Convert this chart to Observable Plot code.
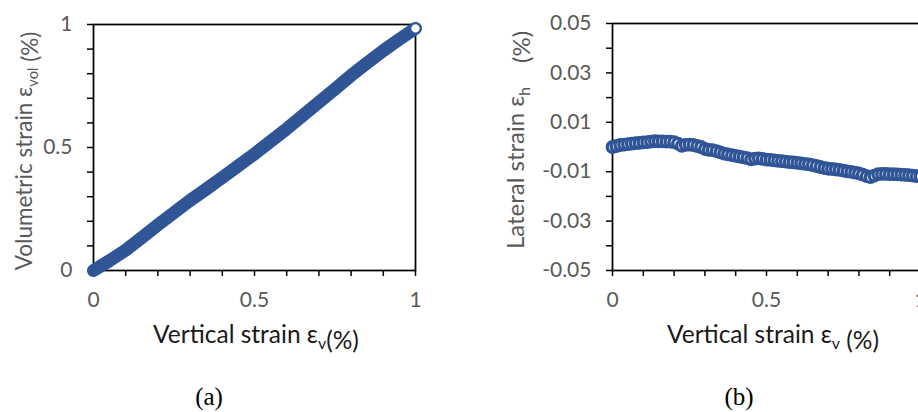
<!DOCTYPE html>
<html>
<head>
<meta charset="utf-8">
<script src="https://cdn.jsdelivr.net/npm/d3@7"></script>
<script src="https://cdn.jsdelivr.net/npm/@observablehq/plot@0.6"></script>
<style>
  html, body { margin: 0; padding: 0; background: #fff; overflow: hidden; }
  #fig { position: relative; width: 918px; height: 412px; overflow: hidden; }
  #fig > svg { position: absolute; top: 0; }
</style>
</head>
<body>
<div id="fig"></div>
<script>
// Panel (a): volumetric strain vs vertical strain (%)
const volX = [0, 0.05, 0.1, 0.15, 0.2, 0.25, 0.3, 0.35, 0.4, 0.45, 0.5,
              0.55, 0.6, 0.65, 0.7, 0.75, 0.8, 0.85, 0.9, 0.95, 1.0];
const volY = [0, 0.040, 0.083, 0.134, 0.185, 0.235, 0.285, 0.331, 0.378, 0.426, 0.474,
              0.525, 0.576, 0.630, 0.684, 0.738, 0.793, 0.844, 0.894, 0.940, 0.984];

// Panel (b): lateral strain vs vertical strain (%)
const latX = [0, 0.0125, 0.025, 0.0375, 0.05, 0.0625, 0.075, 0.0875, 0.1, 0.1125,
              0.125, 0.1375, 0.15, 0.1625, 0.175, 0.1875, 0.2, 0.2125, 0.225, 0.2375,
              0.25, 0.2625, 0.275, 0.2875, 0.3, 0.3125, 0.325, 0.3375, 0.35, 0.3625,
              0.375, 0.3875, 0.4, 0.4125, 0.425, 0.4375, 0.45, 0.4625, 0.475, 0.4875,
              0.5, 0.5125, 0.525, 0.5375, 0.55, 0.5625, 0.575, 0.5875, 0.6, 0.6125,
              0.625, 0.6375, 0.65, 0.6625, 0.675, 0.6875, 0.7, 0.7125, 0.725, 0.7375,
              0.75, 0.7625, 0.775, 0.7875, 0.8, 0.8125, 0.825, 0.8375, 0.85, 0.8625,
              0.875, 0.8875, 0.9, 0.9125, 0.925, 0.9375, 0.95, 0.9625, 0.975, 0.9875, 1.0];
const latY = [0.0000, 0.0004, 0.0008, 0.0010, 0.0012, 0.0014, 0.0016, 0.0017, 0.0019, 0.0020,
              0.0022, 0.0024, 0.0023, 0.0023, 0.0022, 0.0022, 0.0020, 0.0014, 0.0005, 0.0009,
              0.0010, 0.0008, 0.0004, 0.0000, -0.0008, -0.0012, -0.0013, -0.0017, -0.0022, -0.0027,
              -0.0030, -0.0033, -0.0036, -0.0039, -0.0042, -0.0045, -0.0050, -0.0047, -0.0046, -0.0048,
              -0.0051, -0.0052, -0.0054, -0.0056, -0.0057, -0.0059, -0.0061, -0.0062, -0.0064, -0.0066,
              -0.0068, -0.0070, -0.0073, -0.0077, -0.0081, -0.0085, -0.0088, -0.0089, -0.0091, -0.0093,
              -0.0096, -0.0099, -0.0101, -0.0104, -0.0107, -0.0112, -0.0118, -0.0122, -0.0116, -0.0110,
              -0.0109, -0.0109, -0.0110, -0.0110, -0.0111, -0.0112, -0.0113, -0.0114, -0.0116, -0.0118, -0.0119];

// Axis ticks and labels
const xMinorTicks = [0, 0.1, 0.2, 0.3, 0.4, 0.5, 0.6, 0.7, 0.8, 0.9, 1];
const xTickLabels = [0, 0.5, 1];
const volYMinorTicks = [0, 0.1, 0.2, 0.3, 0.4, 0.5, 0.6, 0.7, 0.8, 0.9, 1];
const volYTickLabels = [0, 0.5, 1];
const latYMinorTicks = [-0.05, -0.04, -0.03, -0.02, -0.01, 0, 0.01, 0.02, 0.03, 0.04, 0.05];
const latYTickLabels = ["0.05", "0.03", "0.01", "-0.01", "-0.03", "-0.05"];

const BLUE = "#2F5597";
const GREY = "#595959";
const FONT = "Lato, 'Open Sans', sans-serif";
const TICK_FS = 21;

const volData = volX.map((x, i) => ({x, y: volY[i]}));
const latData = latX.map((x, i) => ({x, y: latY[i]}));

function axes(xTicks, yTicks, xLabels, yLabels, yFmt) {
  return [
    Plot.axisX(xTicks, {tickSize: 6, stroke: "black", strokeWidth: 1.5, tickFormat: () => "", label: null}),
    Plot.axisY(yTicks, {tickSize: 6, stroke: "black", strokeWidth: 1.5, tickFormat: () => "", label: null}),
    Plot.text(xLabels, {x: d => d, frameAnchor: "bottom", dy: 30, text: d => String(d),
      fill: GREY, fontSize: TICK_FS, fontFamily: FONT, textAnchor: "middle", lineAnchor: "middle"}),
    Plot.text(yLabels, {y: d => +d, frameAnchor: "left", dx: -21, text: yFmt,
      fill: GREY, fontSize: TICK_FS, fontFamily: FONT, textAnchor: "end", lineAnchor: "middle"}),
    Plot.frame({stroke: "black", strokeWidth: 1.75})
  ];
}

// Panel (a)
const plotA = Plot.plot({
  width: 460, height: 412,
  marginLeft: 93, marginRight: 45, marginTop: 24, marginBottom: 142,
  x: {domain: [0, 1], axis: null},
  y: {domain: [0, 1], axis: null},
  style: {overflow: "visible", background: "transparent"},
  marks: [
    ...axes(xMinorTicks, volYMinorTicks, xTickLabels, volYTickLabels, d => String(d)),
    Plot.line(volData, {x: "x", y: "y", stroke: BLUE, strokeWidth: 13, strokeLinecap: "round", strokeLinejoin: "round"}),
    Plot.dot(volData.slice(-1), {x: "x", y: "y", r: 5, fill: "white", stroke: BLUE, strokeWidth: 1.75})
  ]
});
plotA.style.left = "0px";

// Panel (b)
const plotB = Plot.plot({
  width: 470, height: 412,
  marginLeft: 152, marginRight: 10, marginTop: 23, marginBottom: 142,
  x: {domain: [0, 1], axis: null},
  y: {domain: [-0.05, 0.05], axis: null},
  style: {overflow: "visible", background: "transparent"},
  marks: [
    ...axes(xMinorTicks, latYMinorTicks, xTickLabels, latYTickLabels, d => d),
    Plot.dot(latData, {x: "x", y: "y", r: 5.2, fill: "white", stroke: BLUE, strokeWidth: 3.4})
  ]
});
plotB.style.left = "460px";

const fig = document.getElementById("fig");
fig.append(plotA, plotB);

// Axis titles with subscripts
function title(svg, x, y, parts, opts) {
  const t = d3.select(svg).append("text")
    .attr("font-family", FONT)
    .attr("font-size", opts.size)
    .attr("fill", opts.fill)
    .attr("text-anchor", "middle")
    .attr("transform", `translate(${x},${y})` + (opts.rotate ? " rotate(-90)" : ""));
  for (const p of parts) {
    if (p.sub) {
      t.append("tspan").attr("font-size", opts.size * 0.65).attr("dy", opts.size * 0.25).text(p.sub);
      t.append("tspan").attr("dy", -opts.size * 0.25).text("");
    } else {
      t.append("tspan").text(p.t);
    }
  }
  return t;
}

title(plotA, 256, 343, [{t: "Vertical strain ε"}, {sub: "v"}, {t: "(%)"}], {size: 24.5, fill: "#1a1a1a"});
title(plotA, 32, 151, [{t: "Volumetric strain ε"}, {sub: "vol"}, {t: " (%)"}], {size: 22.5, fill: GREY, rotate: true});
title(plotB, 313, 343, [{t: "Vertical strain ε"}, {sub: "v"}, {t: " (%)"}], {size: 24.5, fill: "#1a1a1a"});
title(plotB, 64, 140, [{t: "Lateral strain ε"}, {sub: "h"}, {t: "\u2003 (%)"}], {size: 24, fill: GREY, rotate: true});

// Panel letters
d3.select(plotA).append("text").attr("x", 209).attr("y", 405)
  .attr("text-anchor", "middle").attr("font-family", "'Liberation Serif', 'Times New Roman', serif")
  .attr("font-size", 25).attr("fill", "black").text("(a)");
d3.select(plotB).append("text").attr("x", 279).attr("y", 405)
  .attr("text-anchor", "middle").attr("font-family", "'Liberation Serif', 'Times New Roman', serif")
  .attr("font-size", 25).attr("fill", "black").text("(b)");
</script>
</body>
</html>
